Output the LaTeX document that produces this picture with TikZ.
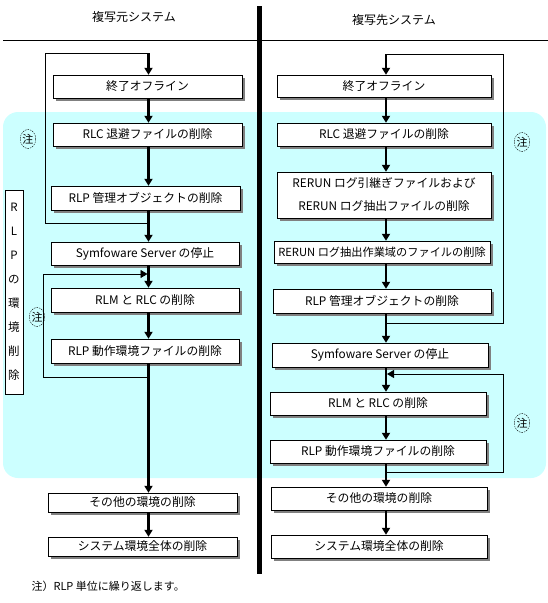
\documentclass[tikz,border=0pt]{standalone}
\usepackage{fontspec}
\setmainfont{Noto Sans CJK JP}
\usetikzlibrary{arrows.meta,shadows,shapes.geometric}

\definecolor{bgcyan}{RGB}{204,255,255}
\definecolor{shadegray}{RGB}{128,128,128}

\tikzset{
  stepbox/.style={draw, fill=white, inner sep=0pt, align=center,
    font=\fontsize{11.8}{23}\selectfont,
    drop shadow={shadow xshift=3pt, shadow yshift=-3pt, fill=shadegray, opacity=1}},
  flow/.style={line width=2.5pt, -{Triangle[width=8pt,length=7pt]}},
  loopline/.style={line width=0.8pt},
  looparrow/.style={line width=0.8pt, -{Triangle[width=8pt,length=7pt]}, shorten >=1pt},
  notemark/.style={ellipse, draw, dash pattern=on 1.5pt off 1pt, inner sep=0pt,
    minimum width=13pt, minimum height=19pt, font=\fontsize{11}{11}\selectfont},
}

\begin{document}
\begin{tikzpicture}[x=1pt, y=-1pt]
    \useasboundingbox (0,0) rectangle (548,603);

    % background of the repeated part
    \fill[bgcyan, rounded corners=15pt] (3,112) rectangle (546,478);

    % headings and frame
    \node (hsrc) at (134,17) {\fontsize{12}{12}\selectfont 複写元システム};
    \node (hdst) at (394,20) {\fontsize{12}{12}\selectfont 複写先システム};
    \draw[line width=0.8pt] (3,40) -- (548,40);
    \draw[line width=5pt] (259.5,6) -- (259.5,574);

    % spines
    \coordinate (lsp) at (148.5,0);
    \coordinate (rsp) at (386,0);

    % source system
    \node[stepbox, minimum width=189pt, minimum height=23pt] (l1) at (147.5,86.5) {終了オフライン};
    \node[stepbox, minimum width=189pt, minimum height=23pt] (l2) at (147.5,134.5) {RLC 退避ファイルの削除};
    \node[stepbox, minimum width=189pt, minimum height=24pt] (l3) at (145.5,198) {RLP 管理オブジェクトの削除};
    \node[stepbox, minimum width=188pt, minimum height=23pt] (l4) at (145,253.5) {Symfoware Server の停止};
    \node[stepbox, minimum width=188pt, minimum height=24pt] (l5) at (145,300) {RLM と RLC の削除};
    \node[stepbox, minimum width=188pt, minimum height=24pt] (l6) at (145,351) {RLP 動作環境ファイルの削除};
    \node[stepbox, minimum width=189pt, minimum height=19pt] (l7) at (142.5,502.5) {その他の環境の削除};
    \node[stepbox, minimum width=189pt, minimum height=19pt] (l8) at (142.5,546.5) {システム環境全体の削除};

    \node[draw, fill=white, inner sep=0pt, minimum width=18pt, minimum height=204pt,
          align=center, font=\fontsize{11.5}{24}\selectfont] (lrlp) at (14,292)
          {R\\L\\P\\の\\環\\境\\削\\除};

    % target system
    \node[stepbox, minimum width=214pt, minimum height=22pt] (r1) at (384,86) {終了オフライン};
    \node[stepbox, minimum width=214pt, minimum height=23pt] (r2) at (384,134.5) {RLC 退避ファイルの削除};
    \node[stepbox, minimum width=214pt, minimum height=46pt] (r3) at (384,195) {RERUN ログ引継ぎファイルおよび\\RERUN ログ抽出ファイルの削除};
    \node[stepbox, minimum width=216pt, minimum height=22pt, font=\fontsize{11.2}{13}\selectfont] (r4) at (382,252) {RERUN ログ抽出作業域のファイルの削除};
    \node[stepbox, minimum width=218pt, minimum height=24pt] (r5) at (382,301) {RLP 管理オブジェクトの削除};
    \node[stepbox, minimum width=216pt, minimum height=24pt] (r6) at (380,355) {Symfoware Server の停止};
    \node[stepbox, minimum width=216pt, minimum height=23pt] (r7) at (378,403.5) {RLM と RLC の削除};
    \node[stepbox, minimum width=216pt, minimum height=23pt] (r8) at (378,451.5) {RLP 動作環境ファイルの削除};
    \node[stepbox, minimum width=216pt, minimum height=23pt] (r9) at (379,498.5) {その他の環境の削除};
    \node[stepbox, minimum width=216pt, minimum height=23pt] (r10) at (379,546.5) {システム環境全体の削除};

    % loop joints
    \coordinate (la) at (148.5,53);
    \coordinate (lb) at (148.5,223);
    \coordinate (lc) at (45,53);
    \coordinate (ld) at (148.5,274);
    \coordinate (le) at (148.5,377);
    \coordinate (lf) at (43,274);
    \coordinate (ra) at (386,54);
    \coordinate (rb) at (386,323);
    \coordinate (rc) at (503,54);
    \coordinate (rd) at (386,374);
    \coordinate (re) at (386,472);
    \coordinate (rf) at (503,374);

    % repeat loops
    \draw[loopline] (lb) -| (lc) -- (la);
    \draw[looparrow] (le) -| (lf) -- (ld);
    \draw[loopline] (rb) -| (rc) -- (ra);
    \draw[looparrow] (re) -| (rf) -- (rd);

    \node[notemark] (nl1) at (28,139) {注};
    \node[notemark] (nl2) at (37,317) {注};
    \node[notemark] (nr1) at (522,142) {注};
    \node[notemark] (nr2) at (522,423) {注};

    % flow, source
    \path[flow] (la) edge (l1.north -| lsp);
    \path[flow] (l1.south -| lsp) edge (l2.north -| lsp);
    \path[flow] (l2.south -| lsp) edge (l3.north -| lsp);
    \path[flow] (l3.south -| lsp) edge (l4.north -| lsp);
    \path[flow] (l4.south -| lsp) edge (l5.north -| lsp);
    \path[flow] (l5.south -| lsp) edge (l6.north -| lsp);
    \path[flow] (l6.south -| lsp) edge (l7.north -| lsp);
    \path[flow] (l7.south -| lsp) edge (l8.north -| lsp);

    % flow, target
    \path[flow] (ra) edge (r1.north -| rsp);
    \path[flow] (r1.south -| rsp) edge (r2.north -| rsp);
    \path[flow] (r2.south -| rsp) edge (r3.north -| rsp);
    \path[flow] (r3.south -| rsp) edge (r4.north -| rsp);
    \path[flow] (r4.south -| rsp) edge (r5.north -| rsp);
    \path[flow] (r5.south -| rsp) edge (r6.north -| rsp);
    \path[flow] (r6.south -| rsp) edge (r7.north -| rsp);
    \path[flow] (r7.south -| rsp) edge (r8.north -| rsp);
    \path[flow] (r8.south -| rsp) edge (r9.north -| rsp);
    \path[flow] (r9.south -| rsp) edge (r10.north -| rsp);

    \node[anchor=west, font=\fontsize{11}{11}\selectfont] (note) at (28,586) {注）RLP 単位に繰り返します。};
\end{tikzpicture}
\end{document}
